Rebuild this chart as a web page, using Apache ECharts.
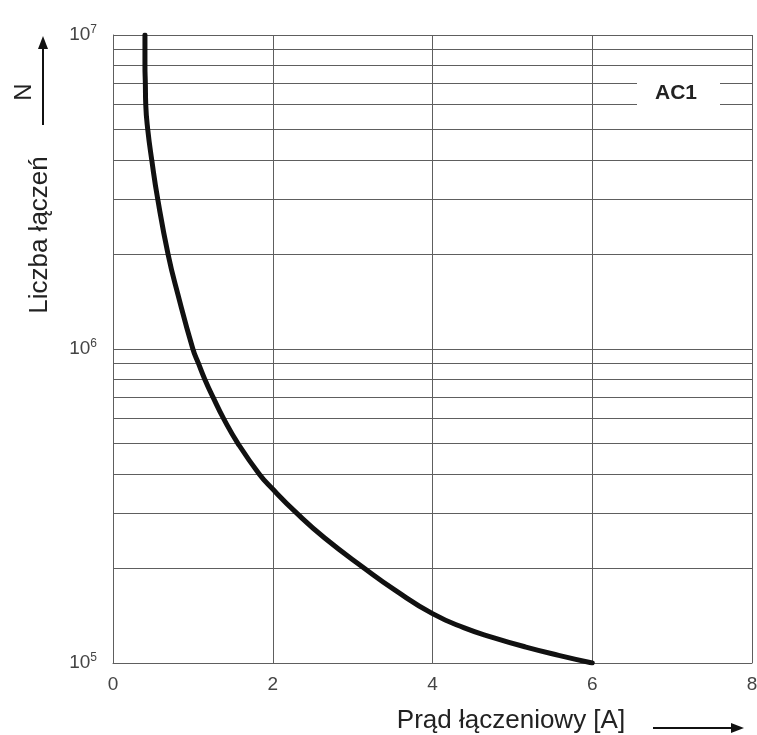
<!DOCTYPE html>
<html>
<head>
<meta charset="utf-8">
<script src="https://cdn.jsdelivr.net/npm/echarts@6/dist/echarts.min.js"></script>
<style>
  html, body { margin: 0; padding: 0; background: #fff; }
  #main { width: 757px; height: 735px; }
</style>
</head>
<body>
<div id="main"></div>
<script type="text/javascript">
// prąd łączeniowy [A]
var current = [0.40, 0.40, 0.405, 0.41, 0.435, 0.485, 0.56, 0.69, 0.81, 1.00, 1.07, 1.15, 1.255, 1.385, 1.565, 1.83, 1.99, 2.30, 2.65, 3.15, 3.54, 4.00, 4.39, 4.76, 5.17, 5.58, 6.00];
// liczba łączeń N
var cycles = [1e7, 8e6, 7e6, 6e6, 5e6, 4e6, 3e6, 2e6, 1.5e6, 1e6, 9e5, 8e5, 7e5, 6e5, 5e5, 4e5, 3.6e5, 3e5, 2.5e5, 2e5, 1.7e5, 1.436e5, 1.296e5, 1.205e5, 1.124e5, 1.058e5, 1e5];
// pomocnicze linie siatki (log)
var minorGrid = [2e5, 3e5, 4e5, 5e5, 6e5, 7e5, 8e5, 9e5, 2e6, 3e6, 4e6, 5e6, 6e6, 7e6, 8e6, 9e6];

var points = [];
for (var i = 0; i < current.length; i++) {
    points.push([current[i], cycles[i]]);
}
var gridColor = '#5e5e5e';

var myChart = echarts.init(document.getElementById('main'));
var option = {
    backgroundColor: '#fff',
    animation: false,
    grid: { left: 113, right: 5, top: 35, bottom: 72, outerBoundsMode: 'none', containLabel: false },
    xAxis: {
        type: 'value',
        min: 0, max: 8, interval: 2,
        axisLine: { show: true, lineStyle: { color: gridColor, width: 1 } },
        axisTick: { show: false },
        axisLabel: { fontFamily: 'Liberation Sans', fontSize: 19, color: '#444', margin: 12 },
        splitLine: { show: true, lineStyle: { color: gridColor, width: 1 } }
    },
    yAxis: {
        type: 'log',
        logBase: 10,
        min: 1e5, max: 1e7,
        axisLine: { show: true, lineStyle: { color: gridColor, width: 1 } },
        axisTick: { show: false },
        axisLabel: {
            margin: 16,
            formatter: function (v) {
                var e = Math.round(Math.log(v) / Math.LN10);
                return '{b|10}{s|' + e + '}';
            },
            rich: {
                b: { fontFamily: 'Liberation Sans', fontSize: 19, color: '#444', lineHeight: 22 },
                s: { fontFamily: 'Liberation Sans', fontSize: 12, color: '#444', verticalAlign: 'top', lineHeight: 22, padding: [0, 0, 10, 0] }
            }
        },
        splitLine: { show: true, lineStyle: { color: gridColor, width: 1 } }
    },
    series: [{
        type: 'line',
        data: points,
        smooth: 0.5,
        symbol: 'none',
        lineStyle: { color: '#111', width: 5, cap: 'round', join: 'round' },
        z: 5,
        markLine: {
            silent: true,
            symbol: 'none',
            label: { show: false },
            lineStyle: { color: gridColor, width: 1, type: 'solid' },
            z: 1,
            data: minorGrid.map(function (v) { return { yAxis: v }; })
        }
    }],
    graphic: [
        // AC1
        { type: 'rect', left: 637, top: 78, shape: { width: 83, height: 34 }, style: { fill: '#fff' }, z: 10 },
        { type: 'text', left: 655, top: 83, z: 11,
          style: { text: 'AC1', font: 'bold 21px "Liberation Sans"', fill: '#222' } },
        // oś Y: N i strzałka
        { type: 'text', x: 24, y: 92, rotation: Math.PI / 2, z: 11,
          style: { text: 'N', font: '24px "Liberation Sans"', fill: '#222', align: 'center', verticalAlign: 'middle' } },
        { type: 'line', shape: { x1: 43, y1: 125, x2: 43, y2: 46 }, style: { stroke: '#111', lineWidth: 2 } },
        { type: 'polygon', shape: { points: [[43, 36], [38, 49], [48, 49]] }, style: { fill: '#111' } },
        { type: 'text', x: 40, y: 235, rotation: Math.PI / 2, z: 11,
          style: { text: 'Liczba łączeń', font: '26px "Liberation Sans"', fill: '#222', align: 'center', verticalAlign: 'middle' } },
        // oś X: tytuł i strzałka
        { type: 'text', x: 511, y: 721, z: 11,
          style: { text: 'Prąd łączeniowy [A]', font: '26px "Liberation Sans"', fill: '#222', align: 'center', verticalAlign: 'middle' } },
        { type: 'line', shape: { x1: 653, y1: 728, x2: 732, y2: 728 }, style: { stroke: '#111', lineWidth: 2 } },
        { type: 'polygon', shape: { points: [[744, 728], [731, 723], [731, 733]] }, style: { fill: '#111' } }
    ]
};
myChart.setOption(option);
</script>
</body>
</html>
